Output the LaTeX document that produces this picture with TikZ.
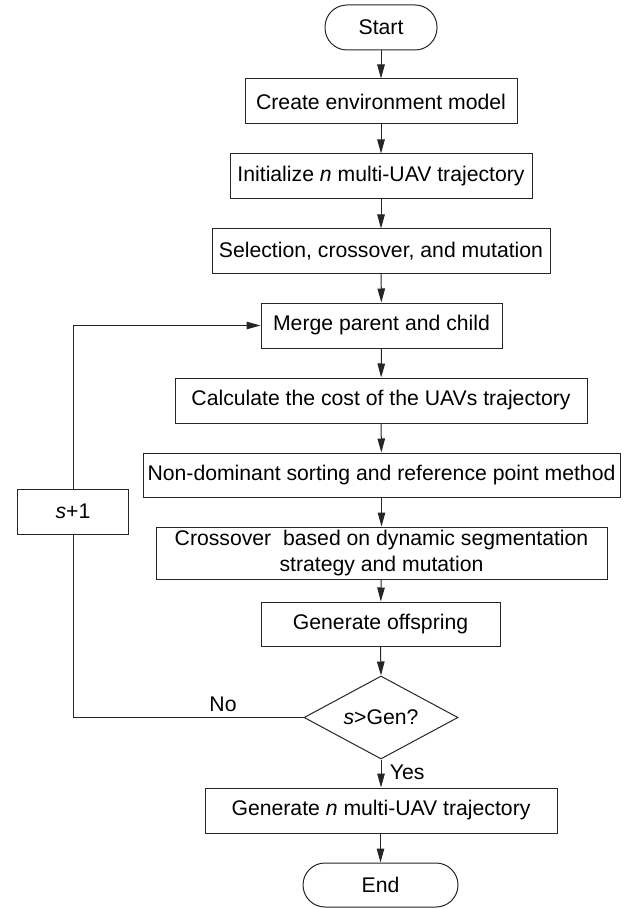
\documentclass[tikz,border=0pt]{standalone}
\usepackage{fontspec}
\setmainfont{Liberation Sans}
\usetikzlibrary{arrows.meta,shapes.geometric}
\begin{document}
\begin{tikzpicture}[x=1pt,y=-1pt,
  font=\fontsize{21.2}{26}\selectfont,
  line width=1pt,
  box/.style={draw=black!85,fill=white,inner sep=0pt,align=center},
  term/.style={box,rounded corners=22pt},
  dec/.style={draw=black!85,fill=white,diamond,inner sep=0pt,aspect=1.855},
  arr/.style={draw=black!85,-{Triangle[length=14pt,width=7.5pt]}},
  ln/.style={draw=black!85}]
\useasboundingbox (0,0) rectangle (633,909);
\node[term,minimum width=112pt,minimum height=45pt] (start) at (381,27.5) {Start};
\node[box,minimum width=272pt,minimum height=45pt] (env) at (381,101.5) {Create environment model};
\node[box,minimum width=302pt,minimum height=45pt] (init) at (381,176.5) {Initialize \textit{n} multi-UAV trajectory};
\node[box,minimum width=338pt,minimum height=44pt] (sel) at (381,251) {Selection, crossover, and mutation};
\node[box,minimum width=241pt,minimum height=45pt] (merge) at (381.5,325.5) {Merge parent and child};
\node[box,minimum width=412pt,minimum height=45pt] (calc) at (381,400.5) {Calculate the cost of the UAVs trajectory};
\node[box,minimum width=477pt,minimum height=44pt] (nds) at (381.5,475) {Non-dominant sorting and reference point method};
\node[box,minimum width=451pt,minimum height=52pt] (cross) at (381.5,553) {Crossover\ \ based on dynamic segmentation\\strategy and mutation};
\node[box,minimum width=239pt,minimum height=44pt] (off) at (380.5,624) {Generate offspring};
\node[dec,minimum width=154pt,minimum height=83pt] (dgen) at (381,717.5) {\textit{s}>Gen?};
\node[box,minimum width=352pt,minimum height=45pt] (gen) at (381,810.5) {Generate \textit{n} multi-UAV trajectory};
\node[term,minimum width=155pt,minimum height=44pt] (end) at (380.5,885) {End};
\node[box,minimum width=111pt,minimum height=45pt] (s1) at (73,511.5) {\textit{s}+1};
\coordinate (cl) at (73,717.5);
\coordinate (cu) at (73,325.5);
\draw[arr] (start) -- (env);
\draw[arr] (env) -- (init);
\draw[arr] (init) -- (sel);
\draw[arr] (sel) -- (merge);
\draw[arr] (merge) -- (calc);
\draw[arr] (calc) -- (nds);
\draw[arr] (nds) -- (cross);
\draw[arr] (cross) -- (off);
\draw[arr] (off.south) -- (dgen.north);
\draw[arr] (dgen.south) -- (dgen.south |- gen.north);
\draw[arr] (gen.south -| end.north) -- (end.north);
\draw[ln] (dgen.west) -- (cl) -- (s1.south);
\draw[arr] (s1.north) -- (cu) -- (merge.west);
\node[anchor=south] (no) at (223,716) {No};
\node[anchor=west] (yes) at (386,772) {Yes};
\end{tikzpicture}
\end{document}
